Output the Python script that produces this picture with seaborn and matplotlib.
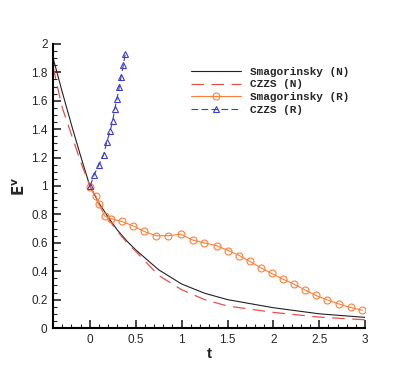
import matplotlib

matplotlib.use("Agg")

import matplotlib.pyplot as plt
import numpy as np
import pandas as pd
import seaborn as sns
from matplotlib.ticker import MultipleLocator

# ---- data ----
t_smag_n = [-0.40, -0.35, -0.30, -0.20, -0.10, 0.00, 0.10, 0.20, 0.30, 0.40,
            0.50, 0.75, 1.00, 1.25, 1.50, 2.00, 2.50, 3.00]
e_smag_n = [1.90, 1.78, 1.66, 1.43, 1.21, 1.00, 0.88, 0.78, 0.69, 0.615,
            0.55, 0.41, 0.31, 0.245, 0.20, 0.143, 0.100, 0.075]

t_czzs_n = [-0.40, -0.35, -0.30, -0.20, -0.10, 0.00, 0.10, 0.20, 0.30, 0.40,
            0.50, 0.75, 1.00, 1.25, 1.50, 2.00, 2.50, 3.00]
e_czzs_n = [1.84, 1.69, 1.55, 1.36, 1.17, 1.00, 0.87, 0.77, 0.68, 0.605,
            0.54, 0.37, 0.27, 0.20, 0.155, 0.110, 0.077, 0.058]

t_smag_r = [0.00, 0.066, 0.10, 0.16, 0.23, 0.35, 0.47, 0.59, 0.72, 0.85,
            0.99, 1.12, 1.24, 1.38, 1.51, 1.63, 1.74, 1.86, 1.98, 2.10,
            2.22, 2.34, 2.46, 2.58, 2.71, 2.84, 2.97]
e_smag_r = [0.99, 0.93, 0.87, 0.79, 0.77, 0.75, 0.72, 0.68, 0.65, 0.65,
            0.66, 0.62, 0.60, 0.58, 0.545, 0.51, 0.47, 0.425, 0.385, 0.345,
            0.31, 0.27, 0.23, 0.20, 0.17, 0.145, 0.125]

t_czzs_r = [0.003, 0.047, 0.10, 0.15, 0.185, 0.22, 0.25, 0.27, 0.295, 0.32,
            0.34, 0.365, 0.385]
e_czzs_r = [1.00, 1.08, 1.15, 1.22, 1.31, 1.385, 1.46, 1.54, 1.61, 1.695,
            1.77, 1.85, 1.93]

labels = ["Smagorinsky (N)", "CZZS (N)", "Smagorinsky (R)", "CZZS (R)"]

df = pd.concat([
    pd.DataFrame({"t": t_smag_n, "E": e_smag_n, "case": labels[0]}),
    pd.DataFrame({"t": t_czzs_n, "E": e_czzs_n, "case": labels[1]}),
    pd.DataFrame({"t": t_smag_r, "E": e_smag_r, "case": labels[2]}),
    pd.DataFrame({"t": t_czzs_r, "E": e_czzs_r, "case": labels[3]}),
], ignore_index=True)

sns.set_style("white")
plt.rcParams["font.family"] = ["Liberation Sans", "DejaVu Sans"]

fig = plt.figure(figsize=(4.15, 3.69), dpi=100)
ax = fig.add_axes([0.128, 0.111, 0.752, 0.770])

palette = {labels[0]: "#222222", labels[1]: "#e8504a",
           labels[2]: "#ff7f3a", labels[3]: "#3c3ccc"}

sns.lineplot(data=df[df["case"] == labels[0]], x="t", y="E", color=palette[labels[0]],
             linewidth=0.8, ax=ax, label=labels[0], sort=False)
sns.lineplot(data=df[df["case"] == labels[1]], x="t", y="E", color=palette[labels[1]],
             linewidth=0.9, dashes=(10, 6), ax=ax, label=labels[1], sort=False)
sns.lineplot(data=df[df["case"] == labels[2]], x="t", y="E", color=palette[labels[2]],
             linewidth=0.8, marker="o", markersize=5, markerfacecolor="none",
             markeredgecolor=palette[labels[2]], markeredgewidth=0.8,
             ax=ax, label=labels[2], sort=False)
sns.lineplot(data=df[df["case"] == labels[3]], x="t", y="E", color=palette[labels[3]],
             linewidth=0.8, dashes=(6, 3), marker="^", markersize=4.5,
             markerfacecolor="none", markeredgecolor=palette[labels[3]],
             markeredgewidth=0.8, ax=ax, label=labels[3], sort=False)

ax.set_xlim(-0.4, 3.0)
ax.set_ylim(0, 2.0)
ax.xaxis.set_major_locator(MultipleLocator(0.5))
ax.xaxis.set_minor_locator(MultipleLocator(0.1))
ax.yaxis.set_major_locator(MultipleLocator(0.2))
ax.yaxis.set_minor_locator(MultipleLocator(0.05))
ax.xaxis.set_major_formatter(plt.FuncFormatter(lambda v, p: f"{v:g}"))
ax.yaxis.set_major_formatter(plt.FuncFormatter(lambda v, p: f"{v:g}"))

ax.spines["top"].set_visible(False)
ax.spines["right"].set_visible(False)
for s in ("left", "bottom"):
    ax.spines[s].set_linewidth(1.5)
    ax.spines[s].set_color("black")
ax.tick_params(which="major", direction="in", length=6, width=1.2,
               labelsize=8.5, left=True, bottom=True, pad=4)
ax.tick_params(which="minor", direction="in", length=3, width=0.8,
               left=True, bottom=True)

ax.set_xlabel("t", fontsize=11, fontweight="bold", labelpad=1)
ax.set_ylabel(r"$\mathbf{E^{v}}$", fontsize=11, rotation=90, labelpad=2)

ax.legend(loc="upper right", bbox_to_anchor=(0.98, 0.955), frameon=False,
          prop={"family": "Liberation Mono", "weight": "bold", "size": 8},
          handlelength=4.5, handletextpad=0.8, labelspacing=0.25)

fig.savefig("out.png", dpi=100)
plt.close(fig)
